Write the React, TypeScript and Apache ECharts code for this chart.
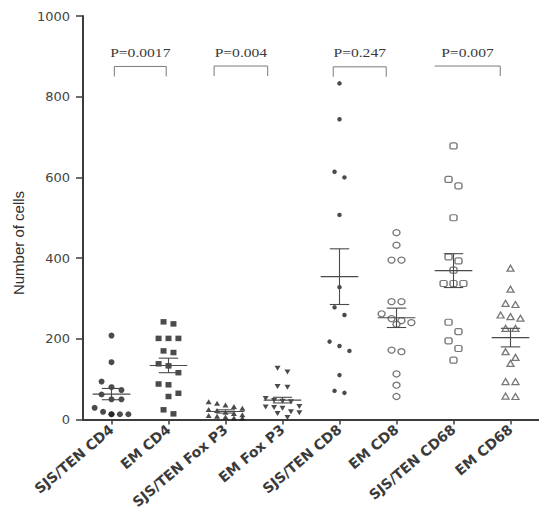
import React, { useEffect, useRef } from "react";
import * as echarts from "echarts";

const categories = [
  "SJS/TEN CD4",
  "EM CD4",
  "SJS/TEN Fox P3",
  "EM Fox P3",
  "SJS/TEN CD8",
  "EM CD8",
  "SJS/TEN CD68",
  "EM CD68",
];

const sjsCD4 = [208, 142, 94, 80, 73, 62, 50, 50, 29, 19, 13, 13, 13, 13];
const emCD4 = [242, 237, 201, 201, 201, 170, 166, 138, 133, 116, 88, 86, 65, 57, 24, 14];
const sjsFoxP3 = [44, 40, 36, 32, 28, 25, 22, 18, 15, 12, 10, 8, 6, 4, 3];
const emFoxP3 = [127, 118, 82, 80, 52, 47, 45, 44, 32, 31, 30, 28, 19, 17, 15, 5];
const sjsCD8 = [833, 744, 614, 600, 507, 328, 278, 259, 193, 182, 170, 110, 71, 66];
const emCD8 = [463, 432, 395, 395, 292, 292, 262, 250, 245, 240, 236, 172, 168, 113, 85, 57];
const sjsCD68 = [678, 595, 579, 500, 403, 393, 370, 337, 337, 337, 241, 218, 195, 176, 147];
const emCD68 = [375, 323, 288, 285, 259, 255, 251, 226, 226, 168, 154, 139, 94, 94, 58, 57];

const groups = [sjsCD4, emCD4, sjsFoxP3, emFoxP3, sjsCD8, emCD8, sjsCD68, emCD68];

const means = [63, 134, 20, 48, 354, 252, 369, 203];
const sems = [14, 18, 4, 7, 69, 24, 42, 23];

const yMin = 0;
const yMax = 1000;
const yStep = 200;

const pLabels = ["P=0.0017", "P=0.004", "P=0.247", "P=0.007"];
const bracketFrom = [0.05, 1.8, 3.89, 5.67];
const bracketTo = [0.96, 2.74, 4.82, 6.82];
const bracketLevel = [875, 876, 874, 876];
const bracketLeftLeg = [true, true, true, false];

const GRID_LEFT = 83;
const GRID_TOP = 16;
const GRID_W = 460;
const GRID_H = 403.5;

const PX_PER_CAT = GRID_W / categories.length;

// symmetric row jitter (like GraphPad scatter dot plots)
function jitter(values: number[], catIndex: number): number[][] {
  const span = 24;
  const maxSize = 5;
  const sorted = [...values].sort((a, b) => b - a);
  const clusters: number[][] = [];
  let cur: number[] = [];
  for (const v of sorted) {
    if (cur.length && (cur[0] - v < span) && cur.length < maxSize) {
      cur.push(v);
    } else {
      if (cur.length) clusters.push(cur);
      cur = [v];
    }
  }
  if (cur.length) clusters.push(cur);
  const out: number[][] = [];
  for (const c of clusters) {
    const n = c.length;
    const stepPx = n > 1 ? Math.min(10, 34 / (n - 1)) : 0;
    c.forEach((v, k) => {
      const offPx = (k - (n - 1) / 2) * stepPx;
      out.push([catIndex + offPx / PX_PER_CAT, v]);
    });
  }
  return out;
}

const filled = "#1e1e1e";
const open = "#555";

const markerStyles: any[] = [
  { symbol: "circle", symbolSize: 6, itemStyle: { color: filled } },
  { symbol: "rect", symbolSize: [6, 5.5], itemStyle: { color: filled } },
  { symbol: "triangle", symbolSize: [6, 5], itemStyle: { color: filled } },
  { symbol: "triangle", symbolSize: [6, 5], symbolRotate: 180, itemStyle: { color: filled } },
  { symbol: "circle", symbolSize: 4.5, itemStyle: { color: filled } },
  { symbol: "circle", symbolSize: [7, 6], itemStyle: { color: "#fff", borderColor: open, borderWidth: 1.3 } },
  { symbol: "roundRect", symbolSize: [7, 6], itemStyle: { color: "#fff", borderColor: open, borderWidth: 1.3 } },
  { symbol: "triangle", symbolSize: [7, 6], itemStyle: { color: "#fff", borderColor: open, borderWidth: 1.3 } },
];

export default function App() {
  const ref = useRef<HTMLDivElement>(null);
  useEffect(() => {
    if (!ref.current) return;
    const chart = echarts.init(ref.current, undefined, { renderer: "svg" });

    const scatterSeries = groups.map((vals, i) => ({
      type: "scatter",
      name: categories[i],
      xAxisIndex: 1,
      yAxisIndex: 0,
      data: jitter(vals, i),
      ...markerStyles[i],
      z: 2,
    }));

    const errorSeries = {
      type: "custom",
      xAxisIndex: 1,
      yAxisIndex: 0,
      z: 5,
      data: means.map((m, i) => [i, m, sems[i]]),
      encode: { x: 0, y: 1 },
      renderItem: (params: any, api: any) => {
        const x = api.value(0);
        const m = api.value(1);
        const s = api.value(2);
        const c = api.coord([x, m]);
        const top = api.coord([x, m + s]);
        const bot = api.coord([x, m - s]);
        const unit = api.size([1, 0])[0];
        const hw = unit * 0.33;
        const cw = unit * 0.17;
        const style = { stroke: "#4a4a4a", lineWidth: 1.1 };
        return {
          type: "group",
          children: [
            { type: "line", shape: { x1: c[0] - hw, y1: c[1], x2: c[0] + hw, y2: c[1] }, style },
            { type: "line", shape: { x1: c[0], y1: top[1], x2: c[0], y2: bot[1] }, style },
            { type: "line", shape: { x1: c[0] - cw, y1: top[1], x2: c[0] + cw, y2: top[1] }, style },
            { type: "line", shape: { x1: c[0] - cw, y1: bot[1], x2: c[0] + cw, y2: bot[1] }, style },
          ],
        };
      },
    };

    const bracketSeries = {
      type: "custom",
      xAxisIndex: 1,
      yAxisIndex: 0,
      z: 6,
      data: pLabels.map((_, i) => [bracketFrom[i], bracketTo[i], bracketLevel[i], i]),
      encode: { x: [0, 1], y: 2 },
      renderItem: (params: any, api: any) => {
        const i = api.value(3);
        const a = api.coord([api.value(0), api.value(2)]);
        const b = api.coord([api.value(1), api.value(2)]);
        const leg = 10;
        const points = bracketLeftLeg[i]
          ? [[a[0], a[1] + leg], [a[0], a[1]], [b[0], b[1]], [b[0], b[1] + leg]]
          : [[a[0], a[1]], [b[0], b[1]], [b[0], b[1] + leg]];
        return {
          type: "group",
          children: [
            {
              type: "polyline",
              shape: { points },
              style: { stroke: "#7a7a7a", lineWidth: 1, fill: "none" },
            },
            {
              type: "text",
              x: (a[0] + b[0]) / 2,
              y: a[1] - 14,
              scaleX: 1.2,
              style: {
                text: pLabels[i],
                x: 0,
                y: 0,
                align: "center",
                verticalAlign: "middle",
                fontFamily: "Liberation Serif",
                fontSize: 13,
                fill: "#3a3a3a",
              },
            },
          ],
        };
      },
    };

    chart.setOption({
      animation: false,
      backgroundColor: "#fff",
      grid: { left: GRID_LEFT, top: GRID_TOP, width: GRID_W, height: GRID_H, containLabel: false },
      xAxis: [
        {
          type: "category",
          data: categories,
          boundaryGap: true,
          axisLine: { show: true, onZero: false, lineStyle: { color: "#3c3c3c", width: 2 } },
          axisTick: { show: true, alignWithLabel: true, length: 5, lineStyle: { color: "#3c3c3c", width: 1.5 } },
          axisLabel: {
            interval: 0,
            rotate: 40,
            margin: 8,
            fontFamily: "DejaVu Sans",
            fontSize: 14,
            fontWeight: "bold",
            color: "#3a3a3a",
          },
          splitLine: { show: false },
        },
        {
          type: "value",
          min: -0.5,
          max: 7.5,
          show: false,
          splitLine: { show: false },
        },
      ],
      yAxis: {
        type: "value",
        min: yMin,
        max: yMax,
        interval: yStep,
        axisLine: { show: true, onZero: false, lineStyle: { color: "#3c3c3c", width: 2 } },
        axisTick: { show: true, length: 7, lineStyle: { color: "#3c3c3c", width: 1.5 } },
        axisLabel: {
          margin: 13,
          fontFamily: "DejaVu Sans",
          fontSize: 13,
          color: "#444",
          formatter: (v: number) => String(v),
        },
        splitLine: { show: false },
      },
      graphic: [
        {
          type: "text",
          x: 18,
          y: 243,
          rotation: Math.PI / 2,
          style: {
            text: "Number of cells",
            align: "center",
            verticalAlign: "middle",
            fontFamily: "Liberation Sans",
            fontSize: 15,
            fill: "#2e2e2e",
          },
        },
      ],
      series: [...scatterSeries, errorSeries, bracketSeries],
    });

    return () => chart.dispose();
  }, []);

  return (
    <div
      ref={ref}
      style={{ position: "absolute", left: 0, top: 0, width: 539, height: 526, background: "#fff" }}
    />
  );
}
